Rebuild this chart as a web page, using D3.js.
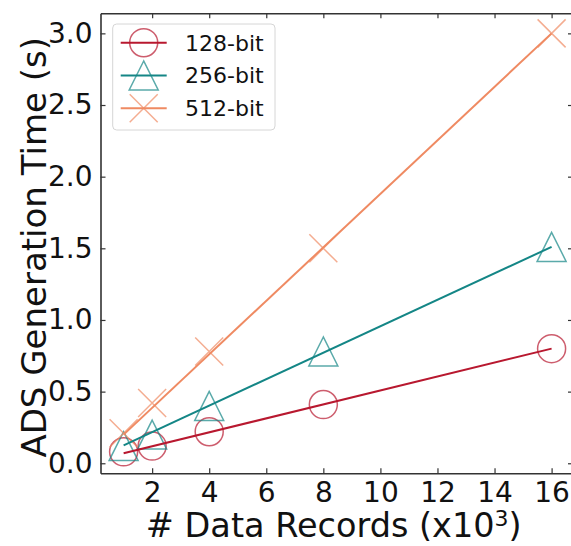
<!DOCTYPE html>
<html><head><meta charset="utf-8">
<script src="https://cdn.jsdelivr.net/npm/d3@7"></script>
<style>body{margin:0;background:#fff}svg{display:block;font-family:"DejaVu Sans",sans-serif}</style>
</head><body>
<script>
// ---- data ----
const records = [1, 2, 4, 8, 16];
const time128 = [0.08, 0.12, 0.22, 0.41, 0.80];
const time256 = [0.12, 0.20, 0.40, 0.78, 1.51];
const time512 = [0.21, 0.42, 0.78, 1.50, 3.00];
const fitX = [1, 16];
const fit128 = [0.07, 0.80];
const fit256 = [0.125, 1.51];
const fit512 = [0.20, 3.00];
const seriesNames = ["128-bit", "256-bit", "512-bit"];
const xTicks = [2, 4, 6, 8, 10, 12, 14, 16];
const yTicks = [0.0, 0.5, 1.0, 1.5, 2.0, 2.5, 3.0];

const W = 571, H = 546;
const L = 100.5, R = 573, T = 13.3, B = 473.3;
const svg = d3.select("body").append("svg").attr("width", W).attr("height", H);
const x = d3.scaleLinear().domain([0.19, 16.75]).range([L, R]);
const y = d3.scaleLinear().domain([-0.07, 3.14]).range([B, T]);

const colors = ["#b8182f", "#148686", "#ef8a62"];
const shapes = ["circle", "triangle", "cross"];
const series = [
  {name: seriesNames[0], vals: time128, fit: fit128},
  {name: seriesNames[1], vals: time256, fit: fit256},
  {name: seriesNames[2], vals: time512, fit: fit512}
];

function marker(g, shape, color) {
  const s = 14;
  if (shape === "circle") {
    g.append("circle").attr("r", s).attr("fill", "none").attr("stroke", color);
  } else if (shape === "triangle") {
    g.append("path").attr("d", `M0,${-s-0.5}L${-s-0.5},${s+0.5}L${s+0.5},${s+0.5}Z`).attr("fill", "none").attr("stroke", color);
  } else {
    g.append("path").attr("d", `M${-s},${-s}L${s},${s}M${-s},${s}L${s},${-s}`).attr("fill", "none").attr("stroke", color);
  }
  g.attr("stroke-width", 1.5).attr("opacity", 0.7);
}

const plot = svg.append("g");
series.forEach((s, i) => {
  s.vals.forEach((v, j) => {
    const g = plot.append("g").attr("transform", `translate(${x(records[j])},${y(v)})`);
    marker(g, shapes[i], colors[i]);
  });
});
const line = d3.line().x(d => x(d[0])).y(d => y(d[1]));
series.forEach((s, i) => {
  plot.append("path").datum(fitX.map((xx, k) => [xx, s.fit[k]]))
    .attr("d", line).attr("fill", "none").attr("stroke", colors[i]).attr("stroke-width", 2);
});

// axes (ticks inward on all sides)
const axColor = "#333";
const fs = 28;
const xb = svg.append("g").attr("transform", `translate(0,${B})`)
  .call(d3.axisBottom(x).tickValues(xTicks).tickSizeInner(-5).tickSizeOuter(0).tickPadding(10).tickFormat(d3.format("d")));
const xt = svg.append("g").attr("transform", `translate(0,${T})`)
  .call(d3.axisTop(x).tickValues(xTicks).tickSizeInner(-5).tickSizeOuter(0).tickFormat(""));
const yl = svg.append("g").attr("transform", `translate(${L},0)`)
  .call(d3.axisLeft(y).tickValues(yTicks).tickSizeInner(-5).tickSizeOuter(0).tickPadding(8).tickFormat(d3.format(".1f")));
const yr = svg.append("g").attr("transform", `translate(${R},0)`)
  .call(d3.axisRight(y).tickValues(yTicks).tickSizeInner(-5).tickSizeOuter(0).tickFormat(""));
[xb, xt, yl, yr].forEach(a => {
  a.select(".domain").attr("stroke", axColor).attr("stroke-width", 1.6);
  a.selectAll(".tick line").attr("stroke", axColor).attr("stroke-width", 1.2);
  a.selectAll("text").attr("font-size", fs).attr("fill", "#111").attr("font-family", "DejaVu Sans");
});
xb.selectAll("text").attr("dy", null).attr("y", 28.5);
yl.selectAll("text").attr("x", -8);

// axis labels
const xl = svg.append("text").attr("x", (L + R) / 2 - 3).attr("y", 537).attr("text-anchor", "middle")
  .attr("font-size", 33.5).attr("fill", "#111");
xl.append("tspan").text("# Data Records (x10");
xl.append("tspan").attr("font-size", 22).attr("dy", -11).text("3");
xl.append("tspan").attr("dy", 11).text(")");
svg.append("text").attr("transform", `translate(46,${(T + B) / 2 + 4}) rotate(-90)`)
  .attr("text-anchor", "middle").attr("font-size", 34).attr("fill", "#111").text("ADS Generation Time (s)");

// legend
const lg = svg.append("g");
lg.append("rect").attr("x", 112.7).attr("y", 24).attr("width", 162.3).attr("height", 106).attr("rx", 4)
  .attr("fill", "#fff").attr("fill-opacity", 0.8).attr("stroke", "#d6d6d6").attr("stroke-width", 1);
series.forEach((s, i) => {
  const ry = 42.7 + i * 32.8;
  const g = lg.append("g").attr("transform", `translate(143.7,${ry})`);
  marker(g, shapes[i], colors[i]);
  lg.append("line").attr("x1", 120.7).attr("x2", 166.7).attr("y1", ry).attr("y2", ry)
    .attr("stroke", colors[i]).attr("stroke-width", 2);
  lg.append("text").attr("x", 185).attr("y", ry).attr("dy", "0.36em").attr("font-size", 22)
    .attr("fill", "#111").text(s.name);
});
</script>
</body></html>
